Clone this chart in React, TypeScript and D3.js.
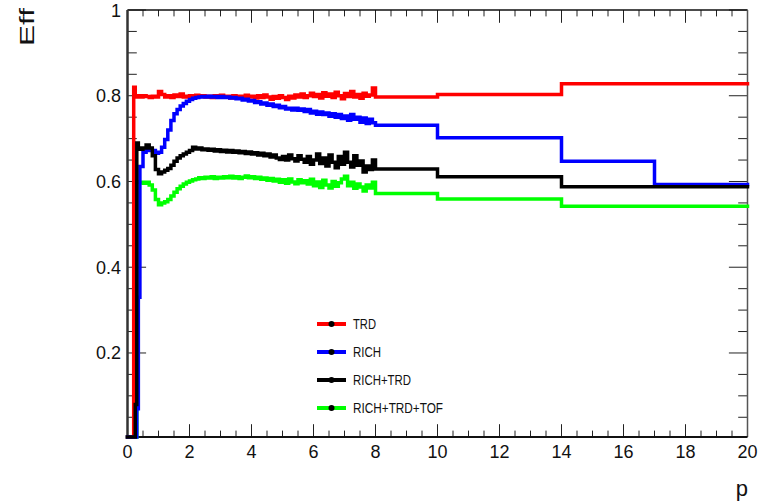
import React from "react";
import * as d3 from "d3";

// ---- data ----
const startEdges = [0, 0.2, 0.25, 0.3, 0.35, 0.4];
const midEdges = d3.range(5, 81).map((i) => i / 10); // 0.5 .. 8.0
const highEdges = [10, 14, 17, 20];
const binEdges = [...startEdges, ...midEdges, ...highEdges];

const trdValues = [
  0, 0.82, 0.8, 0.797, 0.8,
  0.797, 0.8, 0.798, 0.796, 0.799, 0.797, 0.81, 0.803, 0.797, 0.8,
  0.796, 0.802, 0.798, 0.804, 0.797, 0.799, 0.8, 0.797, 0.801, 0.798,
  0.8, 0.797, 0.799, 0.796, 0.8, 0.798, 0.801, 0.797, 0.799, 0.795,
  0.8, 0.797, 0.799, 0.796, 0.801, 0.797, 0.799, 0.795, 0.8, 0.796,
  0.802, 0.797, 0.792, 0.798, 0.794, 0.8, 0.796, 0.791, 0.799, 0.795,
  0.802, 0.797, 0.804, 0.796, 0.8, 0.806, 0.798, 0.803, 0.795, 0.807,
  0.799, 0.804, 0.796, 0.808, 0.8, 0.793, 0.805, 0.798, 0.81, 0.797,
  0.803, 0.794, 0.806, 0.799, 0.802, 0.818,
  0.797, 0.803, 0.828, 0.828,
];

const richValues = [
  0, 0, 0, 0.07, 0.33,
  0.635, 0.668, 0.672, 0.675, 0.672, 0.666, 0.668, 0.68, 0.698, 0.72,
  0.742, 0.758, 0.768, 0.776, 0.782, 0.787, 0.791, 0.794, 0.796, 0.797,
  0.798, 0.797, 0.799, 0.797, 0.798, 0.796, 0.798, 0.796, 0.797, 0.795,
  0.796, 0.793, 0.794, 0.79, 0.792, 0.788, 0.789, 0.784, 0.786, 0.781,
  0.783, 0.778, 0.781, 0.775, 0.778, 0.772, 0.775, 0.769, 0.771, 0.767,
  0.771, 0.766, 0.769, 0.763, 0.768, 0.76, 0.764, 0.757, 0.762, 0.756,
  0.76, 0.752, 0.758, 0.75, 0.756, 0.747, 0.753, 0.743, 0.756, 0.745,
  0.75, 0.738, 0.748, 0.735, 0.745, 0.737,
  0.731, 0.702, 0.647, 0.593,
];

const richTrdValues = [
  0, 0, 0.08, 0.69, 0.678,
  0.675, 0.678, 0.685, 0.678, 0.66, 0.628, 0.618, 0.622, 0.626, 0.63,
  0.638, 0.647, 0.655, 0.66, 0.664, 0.668, 0.672, 0.68, 0.676, 0.678,
  0.674, 0.676, 0.673, 0.675, 0.671, 0.674, 0.67, 0.673, 0.669, 0.672,
  0.668, 0.671, 0.667, 0.67, 0.665, 0.669, 0.664, 0.667, 0.662, 0.666,
  0.66, 0.664, 0.657, 0.662, 0.655, 0.651, 0.658, 0.65, 0.662, 0.653,
  0.648, 0.66, 0.652, 0.645, 0.658, 0.64, 0.65, 0.664, 0.642, 0.655,
  0.636, 0.662, 0.645, 0.632, 0.658, 0.64, 0.668, 0.645, 0.634, 0.66,
  0.638, 0.648, 0.622, 0.636, 0.628, 0.65,
  0.629, 0.611, 0.588, 0.588,
];

const richTrdTofValues = [
  0, 0, 0, 0.6, 0.598,
  0.598, 0.596, 0.598, 0.592, 0.58, 0.558, 0.546, 0.55, 0.553, 0.558,
  0.566, 0.575, 0.583, 0.589, 0.594, 0.598, 0.601, 0.604, 0.606, 0.609,
  0.607, 0.61, 0.608, 0.611, 0.607, 0.61, 0.608, 0.611, 0.609, 0.612,
  0.608, 0.611, 0.607, 0.61, 0.613, 0.609, 0.611, 0.607, 0.61, 0.605,
  0.608, 0.603, 0.607, 0.601, 0.605, 0.598, 0.604, 0.596, 0.606, 0.599,
  0.595, 0.604, 0.597, 0.602, 0.594, 0.605, 0.59, 0.599, 0.586, 0.603,
  0.592, 0.585, 0.6, 0.589, 0.597, 0.606, 0.612, 0.59, 0.598, 0.584,
  0.594, 0.587, 0.578, 0.592, 0.585, 0.598,
  0.572, 0.559, 0.542, 0.542,
];

const seriesNames = ["TRD", "RICH", "RICH+TRD", "RICH+TRD+TOF"];
const seriesColors = ["#ff0000", "#0000ff", "#000000", "#00ff00"];
const seriesValues = [trdValues, richValues, richTrdValues, richTrdTofValues];
const drawOrder = [3, 0, 1, 2];

const xTickValues = [0, 2, 4, 6, 8, 10, 12, 14, 16, 18, 20];
const yTickValues = [0.2, 0.4, 0.6, 0.8, 1];
const yTickLabels = ["0.2", "0.4", "0.6", "0.8", "1"];

// ---- layout ----
const W = 768;
const H = 503;
const xL = 127.5;
const xR = 747.5;
const yT = 10;
const yB = 437;

export default function App() {
  const x = d3.scaleLinear().domain([0, 20]).range([xL, xR]);
  const y = d3.scaleLinear().domain([0.004, 1]).range([yB, yT]).clamp(true);

  const xMinor = d3.range(0, 20.001, 0.5);
  const yMinor = d3.range(0.05, 1.0001, 0.05).filter((v) => v > 0.004);
  const isMajorX = (v: number) => Math.abs(v / 2 - Math.round(v / 2)) < 1e-6;
  const isMajorY = (v: number) => Math.abs(v / 0.2 - Math.round(v / 0.2)) < 1e-6;

  const line = d3
    .line<[number, number]>()
    .x((d) => x(d[0]))
    .y((d) => y(d[1]))
    .curve(d3.curveStepAfter);

  const histPath = (vals: number[]) => {
    const pts: [number, number][] = vals.map((v, i) => [binEdges[i], v]);
    pts.push([binEdges[vals.length], vals[vals.length - 1]]);
    return line(pts) || "";
  };

  const font = "'Liberation Sans', Arial, sans-serif";
  const legendX0 = 317;
  const legendX1 = 346;
  const legendYs = [324, 352, 380, 408];
  const legendLengths = [23, 28, 58, 90];

  return (
    <svg
      width={W}
      height={H}
      style={{ position: "fixed", left: 0, top: 0, background: "#fff" }}
      fontFamily={font}
    >
      <rect x={0} y={0} width={W} height={H} fill="#fff" />
      {/* ticks */}
      <g stroke="#222" strokeWidth={1}>
        {xMinor.map((v, i) => {
          const len = isMajorX(v) ? 12.8 : 6.4;
          return (
            <g key={"xt" + i}>
              <line x1={x(v)} x2={x(v)} y1={yB} y2={yB - len} />
              <line x1={x(v)} x2={x(v)} y1={yT} y2={yT + len} />
            </g>
          );
        })}
        {yMinor.map((v, i) => {
          const len = isMajorY(v) ? 18.6 : 9.3;
          return (
            <g key={"yt" + i}>
              <line x1={xL} x2={xL + len} y1={y(v)} y2={y(v)} />
              <line x1={xR} x2={xR - len} y1={y(v)} y2={y(v)} />
            </g>
          );
        })}
      </g>
      {/* frame */}
      <line x1={xL} x2={xR} y1={yT} y2={yT} stroke="#111" strokeWidth={1.5} />
      <line x1={xR} x2={xR} y1={yT} y2={yB} stroke="#555" strokeWidth={1.5} />
      <line x1={xL} x2={xL} y1={yT} y2={yB} stroke="#333" strokeWidth={2.5} />
      <line x1={xL} x2={xR} y1={yB} y2={yB} stroke="#111" strokeWidth={2} />

      {/* histograms */}
      {drawOrder.map((si) => (
        <path
          key={seriesNames[si]}
          d={histPath(seriesValues[si])}
          fill="none"
          stroke={seriesColors[si]}
          strokeWidth={3.5}
          strokeLinejoin="miter"
          strokeLinecap="square"
        />
      ))}

      {/* tick labels */}
      <g fontSize={18} fill="#111">
        {xTickValues.map((v) => (
          <text key={"xl" + v} x={x(v)} y={457.5} textAnchor="middle">
            {v}
          </text>
        ))}
        {yTickValues.map((v, i) => (
          <text key={"yl" + v} x={121} y={y(v) + 6.5} textAnchor="end">
            {yTickLabels[i]}
          </text>
        ))}
      </g>

      {/* axis titles */}
      <text x={748} y={496} fontSize={22} textAnchor="end" fill="#111">
        p
      </text>
      <text
        transform="translate(34,46) rotate(-90)"
        fontSize={21}
        fill="#111"
        textLength={38}
        lengthAdjust="spacingAndGlyphs"
      >
        Eff
      </text>

      {/* legend */}
      {seriesNames.map((name, i) => (
        <g key={"lg" + name}>
          <line
            x1={legendX0}
            x2={legendX1}
            y1={legendYs[i]}
            y2={legendYs[i]}
            stroke={seriesColors[i]}
            strokeWidth={4}
          />
          <circle cx={(legendX0 + legendX1) / 2} cy={legendYs[i]} r={3} fill="#000" />
          <text
            x={353}
            y={legendYs[i] + 5}
            fontSize={14}
            fill="#111"
            textLength={legendLengths[i]}
            lengthAdjust="spacingAndGlyphs"
          >
            {name}
          </text>
        </g>
      ))}
    </svg>
  );
}
